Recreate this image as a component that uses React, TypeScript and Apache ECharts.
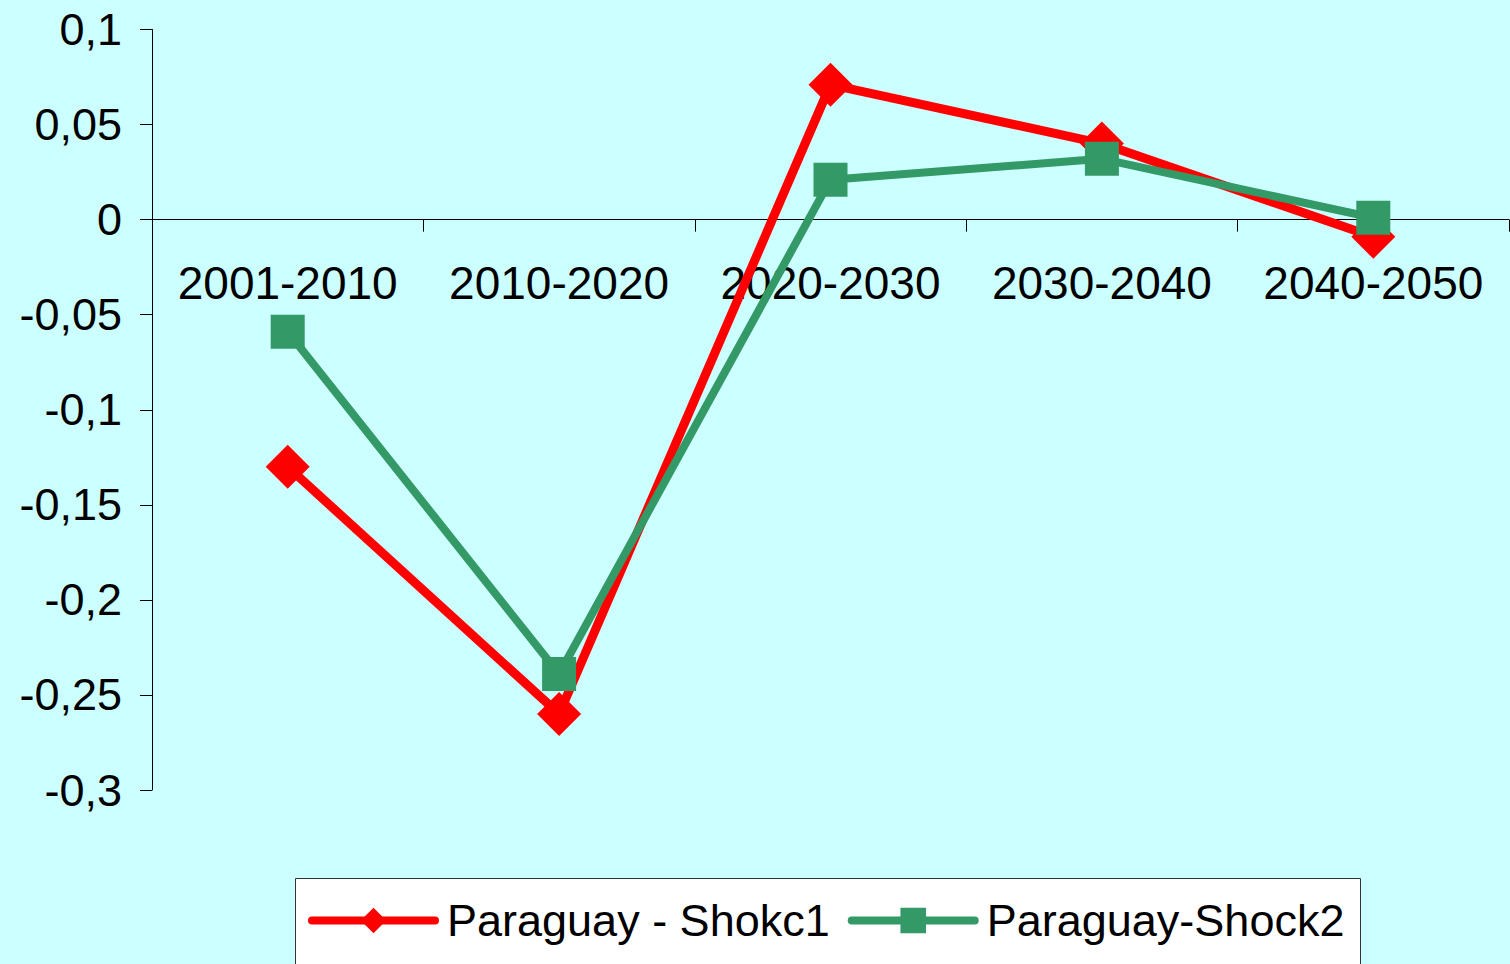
import React, { useEffect, useRef } from "react";
import * as echarts from "echarts";

const categories = ["2001-2010", "2010-2020", "2020-2030", "2030-2040", "2040-2050"];
const shock1 = [-0.13, -0.26, 0.071, 0.04, -0.009];
const shock2 = [-0.059, -0.239, 0.021, 0.032, 0.001];
const seriesNames = ["Paraguay - Shokc1", "Paraguay-Shock2"];

const FONT = "'Liberation Sans', Arial, sans-serif";

export default function App() {
  const ref = useRef<HTMLDivElement>(null);
  useEffect(() => {
    if (!ref.current) return;
    document.body.style.margin = "0";
    const chart = echarts.init(ref.current, null, { renderer: "svg" });
    chart.setOption({
      animation: false,
      backgroundColor: "#CCFFFF",
      grid: { left: 152, right: 1, top: 29.5, bottom: 174, containLabel: false },
      graphic: [
        {
          type: "rect",
          z: 0,
          shape: { x: 295.5, y: 878.5, width: 1065, height: 120 },
          style: { fill: "#FFFFFF", stroke: "#333333", lineWidth: 1 },
        },
      ],
      legend: {
        left: 308,
        top: 898,
        padding: 0,
        itemGap: 18,
        itemWidth: 123,
        itemHeight: 32,
        lineStyle: { width: 8, cap: "round" },
        textStyle: { fontFamily: FONT, fontSize: 45, color: "#000", padding: [0, 0, 0, 7] },
        data: seriesNames,
      },
      xAxis: {
        type: "category",
        data: categories,
        boundaryGap: true,
        axisLine: { onZero: true, lineStyle: { color: "#000", width: 1 } },
        axisTick: { show: true, length: 12, lineStyle: { color: "#000" } },
        axisLabel: { interval: 0, margin: -530, fontFamily: FONT, fontSize: 46, color: "#000" },
        splitLine: { show: false },
      },
      yAxis: {
        type: "value",
        min: -0.3,
        max: 0.1,
        interval: 0.05,
        axisLine: { show: true, lineStyle: { color: "#000", width: 1 } },
        axisTick: { show: true, length: 12, lineStyle: { color: "#000" } },
        splitLine: { show: false },
        axisLabel: {
          margin: 30,
          fontFamily: FONT,
          fontSize: 45,
          color: "#000",
          formatter: (v: number) => String(Number(v.toFixed(2))).replace(".", ","),
        },
      },
      series: [
        {
          name: seriesNames[0],
          type: "line",
          data: shock1,
          symbol: "diamond",
          symbolSize: 44,
          lineStyle: { color: "#FF0000", width: 9 },
          itemStyle: { color: "#FF0000" },
          z: 3,
        },
        {
          name: seriesNames[1],
          type: "line",
          data: shock2,
          symbol: "rect",
          symbolSize: 34,
          lineStyle: { color: "#339966", width: 8 },
          itemStyle: { color: "#339966" },
          z: 4,
        },
      ],
    });
    return () => chart.dispose();
  }, []);
  return <div ref={ref} style={{ position: "fixed", left: 0, top: 0, width: 1510, height: 964 }} />;
}
